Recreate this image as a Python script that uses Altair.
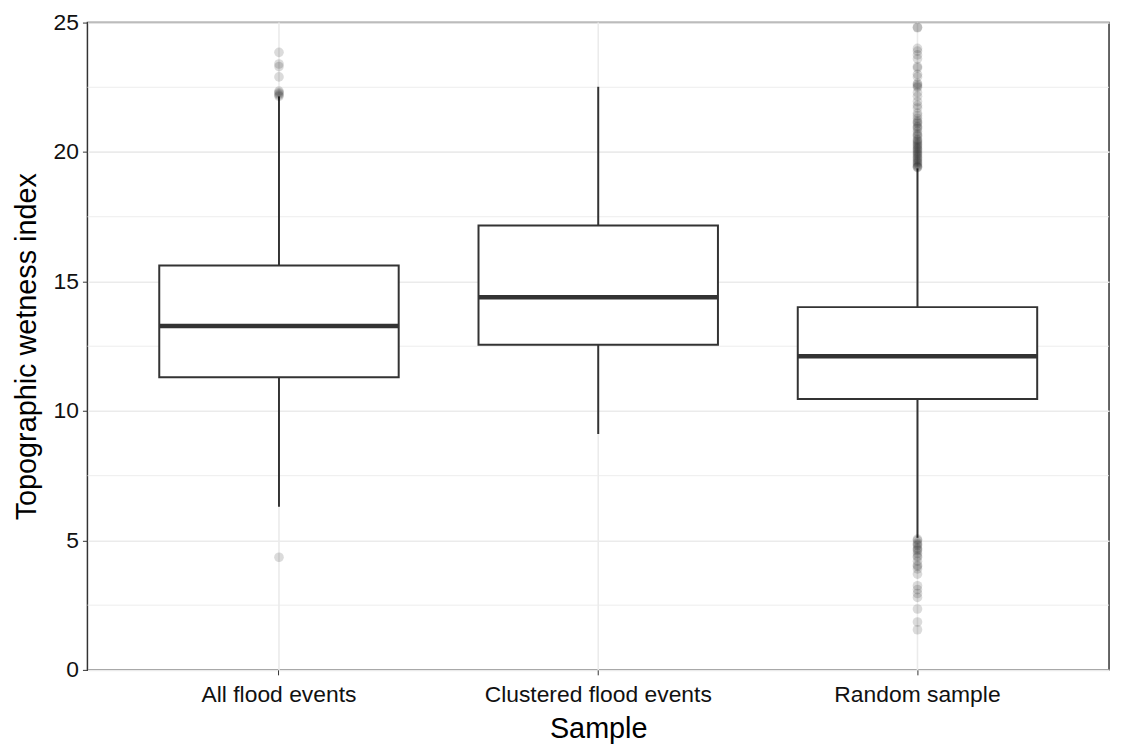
import altair as alt
import pandas as pd

categories = ["All flood events", "Clustered flood events", "Random sample"]
q1 = [11.30, 12.56, 10.46]
median = [13.28, 14.39, 12.11]
q3 = [15.62, 17.16, 14.01]
whisker_lo = [6.30, 9.11, 5.10]
whisker_hi = [22.15, 22.52, 19.37]

out_all = [4.35, 22.15, 22.2, 22.25, 22.3, 22.35, 22.9, 23.3, 23.4, 23.85]
out_clustered = []
out_random = [
    1.55, 1.85, 2.35, 2.8, 2.95, 3.1, 3.25, 3.7, 3.9, 4.0, 4.05, 4.2, 4.35, 4.4,
    4.5, 4.6, 4.65, 4.7, 4.8, 4.85, 4.9, 5.0, 5.05,
    19.4, 19.42, 19.45, 19.5, 19.55, 19.6, 19.65, 19.7, 19.75, 19.8, 19.85, 19.9,
    19.95, 20.0, 20.05, 20.1, 20.15, 20.2, 20.25, 20.3, 20.35, 20.4, 20.45, 20.5,
    20.6, 20.65, 20.7, 20.8, 20.9, 20.95, 21.0, 21.1, 21.15, 21.2, 21.3, 21.4,
    21.5, 21.7, 21.8, 21.95, 22.15, 22.3, 22.5, 22.55, 22.6, 22.65, 22.9, 23.0,
    23.25, 23.3, 23.6, 23.75, 23.9, 24.0, 24.8, 24.82,
]
minor_grid = [2.5, 7.5, 12.5, 17.5, 22.5]

stats = pd.DataFrame({
    "Sample": categories, "q1": q1, "median": median, "q3": q3,
    "lo": whisker_lo, "hi": whisker_hi,
})
outliers = pd.DataFrame({
    "Sample": [categories[0]] * len(out_all) + [categories[1]] * len(out_clustered)
    + [categories[2]] * len(out_random),
    "value": out_all + out_clustered + out_random,
})
minor = pd.DataFrame({"v": minor_grid})

xscale = alt.Scale(domain=categories, paddingInner=0.25, paddingOuter=0.225)
yscale = alt.Scale(domain=[0, 25], nice=False, zero=False)
dark = "#333333"
gridc = "#EBEBEB"

xenc = alt.X("Sample:N", scale=xscale, sort=categories,
             axis=alt.Axis(title="Sample", labelAngle=0, grid=False, labelLimit=0))
yaxis = alt.Axis(title="Topographic wetness index", values=[0, 5, 10, 15, 20, 25],
                 grid=True, gridColor=gridc, gridWidth=1.6)

base = alt.Chart(stats)

minor_rules = alt.Chart(minor).mark_rule(color=gridc, strokeWidth=0.9).encode(
    y=alt.Y("v:Q", scale=yscale, axis=yaxis)
)
vgrid = base.mark_rule(color=gridc, strokeWidth=1.6).encode(x=xenc)

whisk_lo = base.mark_rule(color=dark, strokeWidth=2).encode(
    x=xenc, y=alt.Y("lo:Q", scale=yscale), y2="q1:Q")
whisk_hi = base.mark_rule(color=dark, strokeWidth=2).encode(
    x=xenc, y=alt.Y("q3:Q", scale=yscale), y2="hi:Q")
boxes = base.mark_bar(fill="white", stroke=dark, strokeWidth=2).encode(
    x=xenc, y=alt.Y("q1:Q", scale=yscale), y2="q3:Q")
medians = base.mark_tick(color=dark, thickness=4.5, size=241, opacity=1).encode(
    x=xenc, y=alt.Y("median:Q", scale=yscale))
pts = alt.Chart(outliers).mark_circle(color="black", opacity=0.14, size=95).encode(
    x=xenc, y=alt.Y("value:Q", scale=yscale))

chart = alt.layer(minor_rules, vgrid, whisk_lo, whisk_hi, boxes, medians, pts).properties(
    width=1029, height=652,
    autosize=alt.AutoSizeParams(type="none"),
    padding={"left": 80, "top": 12, "right": 4, "bottom": 75},
).configure_view(stroke=dark, strokeWidth=1.5).configure_axis(
    labelFont="Liberation Sans", titleFont="Liberation Sans",
    labelFontSize=23, titleFontSize=29, labelColor="#111", titleColor="#000",
    titleFontWeight="normal", tickColor=dark, tickSize=5, domain=False,
    labelPadding=4,
).configure_axisX(titlePadding=8, labelPadding=9).configure_axisY(titlePadding=12)

chart.save("out.html", embed_options={"renderer": "svg", "actions": False})
